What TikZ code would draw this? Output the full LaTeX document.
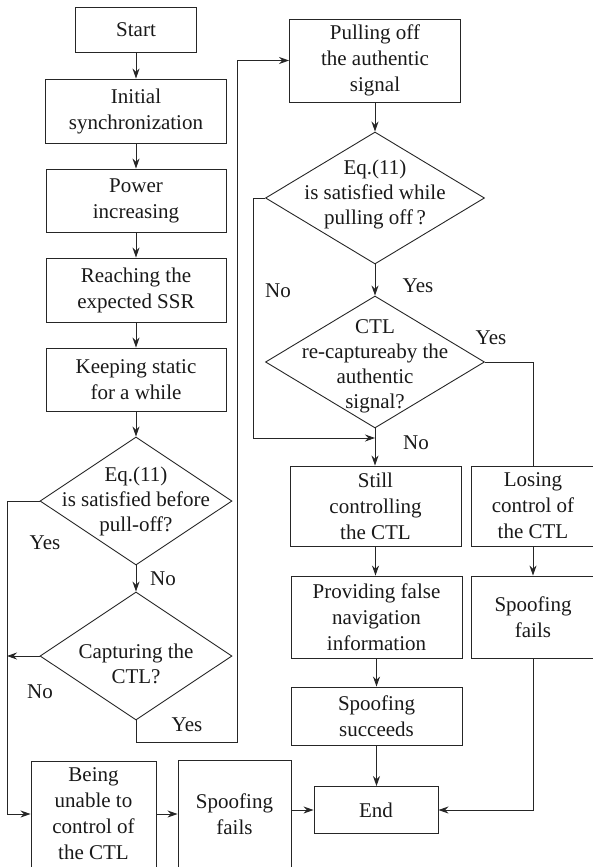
\documentclass[tikz,border=0pt]{standalone}
\usepackage{fontspec}
\setmainfont{Liberation Serif}
\usetikzlibrary{shapes.geometric, arrows.meta, positioning}

\begin{document}
\begin{tikzpicture}[
    x=1pt, y=-1pt,
    line width=0.9pt,
    every node/.style={text=black!90},
    box/.style={rectangle, draw=black!85, align=center, inner sep=1pt, font=\fontsize{21}{26}\selectfont},
    dec/.style={diamond, draw=black!85, inner sep=0pt, minimum width=192pt, minimum height=128pt},
    dectext/.style={align=center, font=\fontsize{21}{25}\selectfont},
    arrow/.style={-{Stealth[length=10pt, width=7pt]}, draw=black!85},
    line/.style={draw=black!85},
    yesno/.style={font=\fontsize{21}{26}\selectfont}
]
\useasboundingbox (0,0) rectangle (592,867);

% Left column
\node[box, minimum width=121pt, minimum height=45pt] (start) at (136,29.5) {Start};
\node[box, minimum width=181pt, minimum height=64pt] (init) at (136,111) {Initial\\synchronization};
\node[box, minimum width=180pt, minimum height=63pt] (power) at (136,200.5) {Power\\increasing};
\node[box, minimum width=180pt, minimum height=64pt] (reach) at (136,290) {Reaching the\\expected SSR};
\node[box, minimum width=180pt, minimum height=63pt] (keep) at (136,379.5) {Keeping static\\for a while};
\node[dec, label={[dectext]center:Eq.(11)\\is satisfied before\\pull-off?}] (eqpre) at (136,501) {};
\node[dec, label={[dectext, yshift=-8pt]center:Capturing the\\CTL?}] (capture) at (136,656) {};

% Bottom row
\node[box, minimum width=125pt, minimum height=106pt] (unable) at (93.5,814) {Being\\unable to\\control of\\the CTL};
\node[box, minimum width=113pt, minimum height=108pt] (failA) at (234.5,814) {Spoofing\\fails};
\node[box, minimum width=124pt, minimum height=47pt] (end) at (376,810) {End};

% Right column
\node[box, minimum width=171pt, minimum height=83pt] (pull) at (375,60.5) {Pulling off\\the authentic\\signal};
\node[dec, minimum width=219pt, minimum height=132pt, label={[dectext, yshift=4pt]center:Eq.(11)\\is satisfied while\\pulling off\,?}] (eqwhile) at (375,198) {};
\node[dec, minimum width=219pt, minimum height=132pt, label={[dectext, yshift=-4pt]center:CTL\\re-captureaby the\\authentic\\signal?}] (recap) at (375,362) {};
\node[box, minimum width=171pt, minimum height=80pt] (still) at (375.5,506) {Still\\controlling\\the CTL};
\node[box, minimum width=124pt, minimum height=80pt] (losing) at (533,506) {Losing\\control of\\the CTL};
\node[box, minimum width=171pt, minimum height=82pt] (provide) at (376.5,617) {Providing false\\navigation\\information};
\node[box, minimum width=124pt, minimum height=82pt] (failB) at (533,617) {Spoofing\\fails};
\node[box, minimum width=171pt, minimum height=58pt] (succeed) at (376.5,716) {Spoofing\\succeeds};

% Bend points
\coordinate (leftbus) at (7,501);
\coordinate (yesbend) at (237,742);
\coordinate (nobend) at (253,438);

% Arrows
\draw[arrow] (start) -- (init);
\draw[arrow] (init) -- (power);
\draw[arrow] (power) -- (reach);
\draw[arrow] (reach) -- (keep);
\draw[arrow] (keep) -- (eqpre);
\draw[arrow] (eqpre) -- (capture);
\draw[arrow] (eqpre.west) -- (leftbus) |- (unable.west);
\draw[arrow] (capture.west) -- (capture.west -| leftbus);
\draw[arrow] (capture.south) |- (yesbend) |- (pull.west);
\draw[arrow] (unable) -- (failA);
\draw[arrow] (failA.east |- end.west) -- (end.west);
\draw[arrow] (pull) -- (eqwhile);
\draw[arrow] (eqwhile) -- (recap);
\draw[arrow] (eqwhile.west) -| (nobend) -- (nobend -| recap.south);
\draw[arrow] (recap.south) -- (recap.south |- still.north);
\draw[line] (recap.east) -| (losing.north);
\draw[arrow] (still.south) -- (still.south |- provide.north);
\draw[arrow] (losing) -- (failB);
\draw[arrow] (provide) -- (succeed);
\draw[arrow] (succeed.south) -- (succeed.south |- end.north);
\draw[arrow] (failB.south) |- (end.east);

% Yes/No labels
\node[yesno] (yesA) at (45,543) {Yes};
\node[yesno] (noA) at (163,579) {No};
\node[yesno] (noB) at (40,692) {No};
\node[yesno] (yesB) at (187,725) {Yes};
\node[yesno] (noC) at (278,291) {No};
\node[yesno] (yesC) at (418,286) {Yes};
\node[yesno] (yesD) at (491,338) {Yes};
\node[yesno] (noD) at (416,443) {No};
\end{tikzpicture}
\end{document}
